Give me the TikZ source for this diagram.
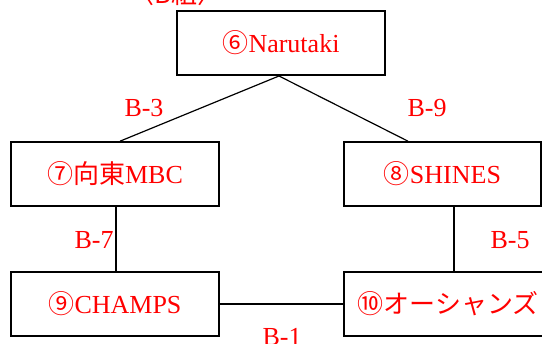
\documentclass[tikz,border=0pt]{standalone}
\usepackage{fontspec}
\setmainfont{Liberation Serif}
\newfontfamily\jpfont{Noto Sans CJK JP}
\tikzset{
	team/.style={draw, line width=1.6pt, inner sep=0pt, minimum width=208pt, minimum height=64pt, text=red, font=\fontsize{26}{30}\selectfont},
	game/.style={text=red, inner sep=0pt, font=\fontsize{26}{30}\selectfont},
	link/.style={line width=1.2pt}
}
\begin{document}
\begin{tikzpicture}[x=1pt, y=-1pt]
		\useasboundingbox (0,0) rectangle (542,344);
		\clip (0,0) rectangle (542,344);
		\node[game, anchor=base] (title) at (176,4) {\jpfont 〈B組〉};
		\node[team] (n6) at (281,43) {{\jpfont ⑥}Narutaki};
		\node[team] (n7) at (115,174) {{\jpfont ⑦向東}MBC};
		\node[team, minimum width=197pt] (n8) at (442.5,174) {{\jpfont ⑧}SHINES};
		\node[team] (n9) at (115,304) {{\jpfont ⑨}CHAMPS};
		\node[team] (n10) at (448,304) {\jpfont ⑩オーシャンズ};
		% connectors
		\coordinate (top) at (279,76);
		\draw[link] (top) -- (n7.north -| 120,0);
		\draw[link] (top) -- (n8.north -| 408,0);
		\draw[link] (n7.south -| 116,0) -- (n9.north -| 116,0);
		\draw[link] (n8.south -| 454,0) -- (n10.north -| 454,0);
		\draw[link] (n9) -- (n10);
		% game labels
		\node[game] (b3) at (144,108) {B-3};
		\node[game] (b9) at (427,108) {B-9};
		\node[game] (b7) at (94,240) {B-7};
		\node[game] (b5) at (510,240) {B-5};
		\node[game] (b1) at (282,337) {B-1};
	\end{tikzpicture}
\end{document}
